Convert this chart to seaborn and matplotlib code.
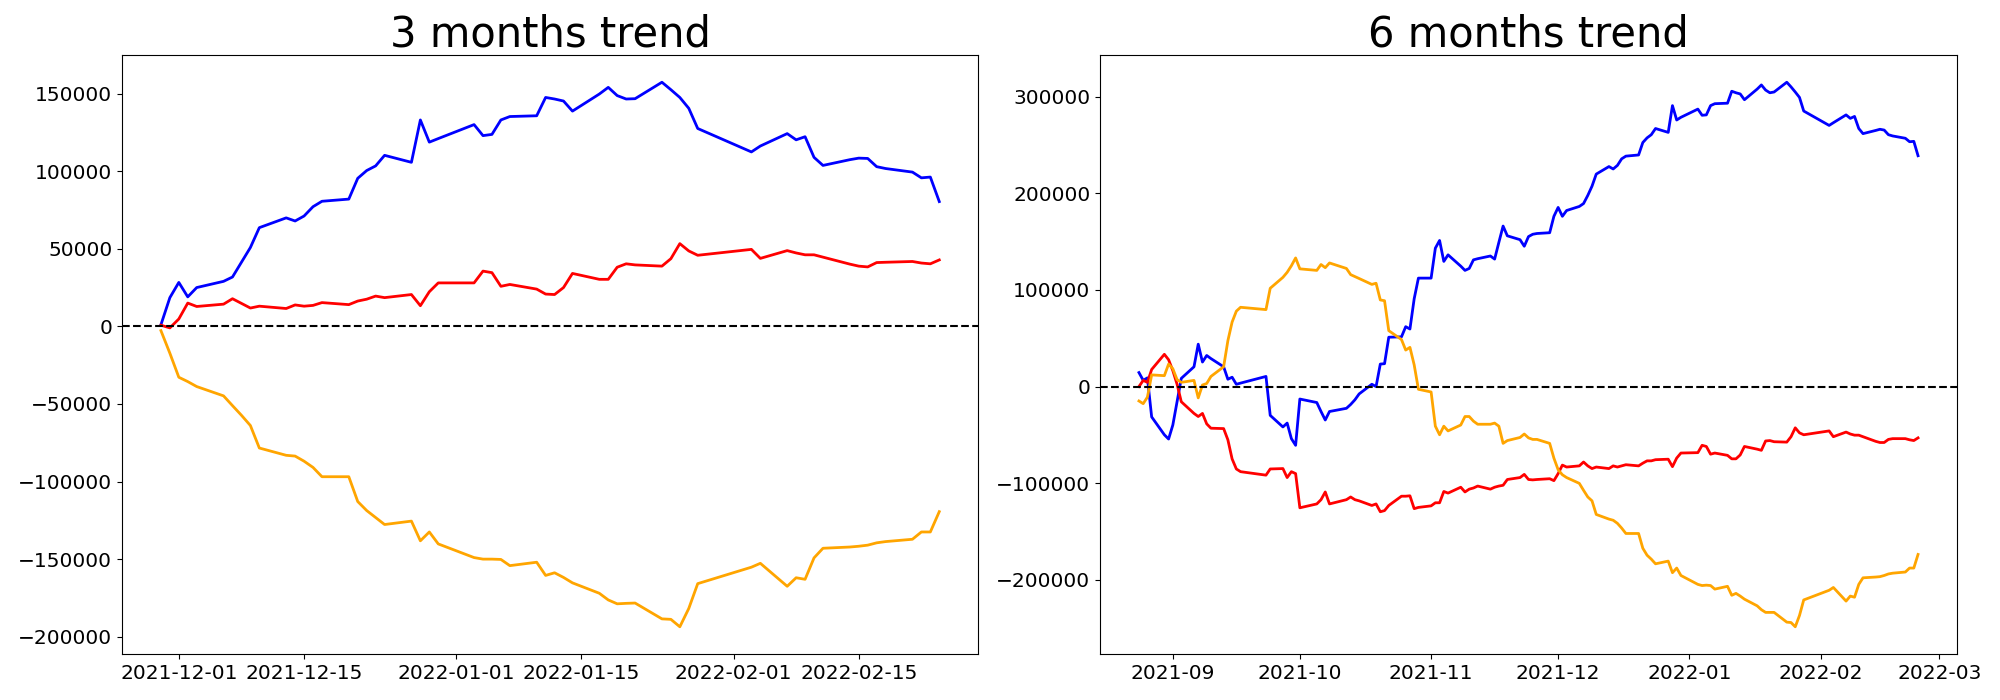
#!/usr/bin/env python3
# -*- coding: utf-8 -*-
"""
3 months / 6 months cumulative trend, three investor groups
"""

import numpy as np
import pandas as pd
import matplotlib
matplotlib.use('Agg')
import matplotlib.pyplot as plt
import matplotlib.dates as mdates
import seaborn as sns

# trading calendar (market closed on these weekdays)
holidays = ['2021-09-20', '2021-09-21', '2021-09-22', '2021-10-04', '2021-10-11',
            '2021-12-31', '2022-01-31', '2022-02-01', '2022-02-02']
dates_6m = pd.bdate_range('2021-08-24', '2022-02-24', freq='C', holidays=holidays)
dates_3m = dates_6m[dates_6m >= '2021-11-29']

groups = ['foreign', 'institution', 'retail']
colors = ['blue', 'red', 'orange']

# 3 months (2021-11-29 .. 2022-02-24)
blue_3m = [1000, 18500, 28300, 19000, 25000, 29000, 31800, 41300, 50800, 63600,
           69900, 67900, 71100, 77100, 80600, 82000, 95400, 100400, 103400, 110200,
           105700, 133000, 118700, 121000, 130000, 122900, 123700, 133000, 135200, 135700,
           147500, 146500, 145200, 138700, 149700, 154000, 148700, 146500, 146700, 157300,
           152500, 147500, 140500, 127500, 112400, 116200, 124200, 120200, 122200, 108900,
           103700, 107400, 108400, 108200, 102900, 101700, 99400, 95700, 96200, 80400]
red_3m = [750, -1000, 4750, 15000, 12800, 14300, 17800, 14800, 11800, 13000,
          11500, 13800, 13000, 13500, 15300, 14000, 16300, 17500, 19500, 18500,
          20500, 13300, 22300, 28000, 28000, 35600, 34600, 25800, 27000, 24000,
          20800, 20500, 25000, 34100, 30300, 30300, 38100, 40300, 39600, 38800,
          43600, 53300, 48600, 45800, 49600, 43800, 48800, 47300, 46100, 46100,
          44600, 40100, 38800, 38300, 41100, 41300, 41800, 40800, 40300, 42800]
orange_3m = [-2750, -17300, -32800, -35600, -38800, -44800, -51100, -57300, -63900, -78400,
             -83100, -83600, -86900, -90900, -96900, -96900, -112900, -118700, -123200, -127700,
             -125500, -138200, -132500, -140200, -149000, -150000, -150000, -150200, -154200, -152000,
             -160500, -158800, -161800, -165300, -172000, -176300, -178800, -178500, -178300, -188500,
             -188800, -193600, -181800, -165800, -155200, -152700, -167500, -162000, -163000, -149200,
             -143000, -142200, -141700, -141000, -139500, -138700, -137200, -132500, -132500, -119400]

# 6 months (2021-08-24 .. 2022-02-24), one row per month
blue_6m = [14500, 6500, 9000, -31400, -49900, -54300,
           -39800, -15700, 8500, 20500, 43900, 25400, 32200, 29000, 20500, 7600, 9700, 2400, 3600,
           10500, -29800, -41800, -37800, -53900, -60800,
           -12900, -16500, -25800, -34600, -25800, -22500, -18500, -13700, -7600, 2400, 0,
           23300, 23700, 51100, 51500, 62000, 59600, 90900, 112300,
           112300, 143300, 151300, 129600, 136400, 124700, 120300, 122300, 131200, 132400, 135200,
           132000, 149300, 166200, 156100, 152100, 145300, 155300, 157700, 158500, 159300, 176300,
           185500, 176300, 182300, 186500, 189500, 197900, 207500, 220000, 227800, 225300, 229000,
           235800, 238600, 239800, 252700, 257500, 260800, 267200, 263200, 290900, 276000, 278800,
           287300, 280900, 281300, 290900, 292900, 293400, 305800, 304200, 303000, 297000,
           308000, 312300, 307000, 304200, 305000, 315100, 310300, 305000, 299400, 285300,
           270400, 273200, 281300, 277700, 279700, 267200, 261900, 265200, 266400, 265600,
           260800, 259500, 257100, 253500, 253900, 239000]
red_6m = [0, 6400, 4400, 17700, 33400, 27800,
          16500, 2400, -15700, -27800, -31000, -27800, -38600, -43100, -43500, -55100, -74900,
          -85300, -88100, -91700, -85300, -84900, -94200, -88100, -90100,
          -125500, -121500, -117100, -109100, -121500, -117100, -114300, -117100, -118300,
          -123100, -121500, -129600, -128400, -123100, -113500, -113500, -113100, -126400, -125100,
          -123500, -120300, -120300, -108600, -110300, -104200, -109100, -106200, -105000, -103000,
          -106200, -104200, -103000, -102200, -96200, -94200, -90900, -96200, -96600, -96200,
          -95400, -97400,
          -90100, -81300, -83300, -82100, -78100, -82100, -84900, -83300, -84900, -82100, -83300,
          -82100, -80900, -82100, -79300, -76900, -76900, -75700, -75200, -82900, -74000, -68800,
          -68400, -60800, -62000, -70000, -68800, -71200, -74800, -74800, -70800, -62000,
          -64800, -66000, -56300, -55900, -57100, -57500, -51900, -42700, -47900, -49900,
          -45900, -51900, -47100, -49100, -50300, -50300, -51900, -56700, -57900, -57900,
          -54700, -53900, -53900, -55100, -55900, -53100]
orange_6m = [-14900, -17700, -10900, 12100, 11300, 23300,
             18500, 7200, 4400, 6400, -11700, 1600, 3200, 10500, 20500, 47500, 66800, 78100, 82100,
             79700, 101800, 113100, 118300, 125100, 133200,
             121900, 120300, 126400, 123100, 128000, 122300, 115900, 113900, 111900, 105800, 107000,
             89700, 88900, 57900, 48700, 37800, 40600, 22500, -2800,
             -5600, -41000, -49900, -41000, -45900, -39800, -31000, -31000, -35800, -39000, -39000,
             -37800, -41000, -58800, -55900, -52700, -49100, -53100, -54700, -54700, -58800, -74100,
             -86100, -91300, -94200, -100200, -107400, -114300, -118300, -132400, -137200, -138400,
             -141600, -146500, -152100, -152100, -167400, -174600, -178700, -183500, -180700,
             -192700, -187900, -195600,
             -204800, -206000, -205600, -206000, -209700, -206800, -216100, -214100, -216900,
             -220100, -227000, -231000, -233800, -233800, -233800, -243900, -244300, -248700,
             -237000, -220900,
             -210900, -208000, -222100, -216900, -218100, -204800, -198000, -197200, -196800,
             -195600, -194000, -193200, -192000, -187900, -187900, -173800]


def long_df(dates, series):
    # wide lists -> long table for seaborn
    frames = []
    for g, vals in zip(groups, series):
        frames.append(pd.DataFrame({'date': dates, 'value': vals, 'group': g}))
    return pd.concat(frames, ignore_index=True)


df3 = long_df(dates_3m, [blue_3m, red_3m, orange_3m])
df6 = long_df(dates_6m, [blue_6m, red_6m, orange_6m])

fig = plt.figure(figsize=(20, 7), dpi=100)
ax1 = fig.add_axes([0.061, 0.0657, 0.4281, 0.8557])
ax2 = fig.add_axes([0.55, 0.0657, 0.4285, 0.8557])

for ax, df, title in [(ax1, df3, '3 months trend'), (ax2, df6, '6 months trend')]:
    sns.lineplot(data=df, x='date', y='value', hue='group', hue_order=groups,
                 palette=colors, lw=2, legend=False, ax=ax)
    ax.axhline(0, color='black', ls='--', lw=1.5)
    ax.set_title(title, fontsize=30)
    ax.set_xlabel('')
    ax.set_ylabel('')
    ax.tick_params(labelsize=14.5)

# date ticks
ax1.xaxis.set_major_locator(mdates.DayLocator(bymonthday=[1, 15]))
ax1.xaxis.set_major_formatter(mdates.DateFormatter('%Y-%m-%d'))
ax2.xaxis.set_major_locator(mdates.MonthLocator())
ax2.xaxis.set_major_formatter(mdates.DateFormatter('%Y-%m'))

plt.savefig('out.png', dpi=100)
